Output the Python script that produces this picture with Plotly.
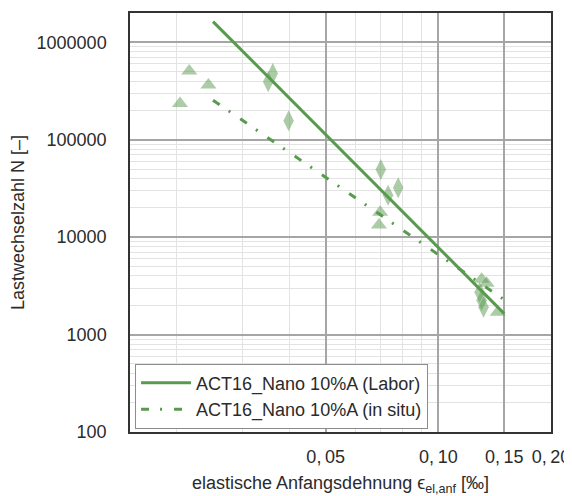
import plotly.graph_objects as go

# ---- data ----
labor_x = [0.0361, 0.0351, 0.0398, 0.0702, 0.0781, 0.0734, 0.1289, 0.1305, 0.1321]
labor_n = [480000, 394000, 157000, 49600, 32200, 27000, 2720, 2250, 1910]

insitu_x = [0.0216, 0.0243, 0.0204, 0.0699, 0.0694, 0.1305, 0.1346, 0.1441]
insitu_n = [509000, 364000, 236000, 18000, 13300, 3700, 3370, 1700]

fit_x = [0.025, 0.15]
labor_fit_n = [1630000, 1640]
insitu_fit_n = [255000, 2280]

x_tickvals = [0.05, 0.10, 0.15, 0.20]
x_ticktext = ["0,\u200905", "0,\u200910", "0,\u200915", "0,\u200920"]
x_minor = [0.02, 0.03, 0.04, 0.06, 0.07, 0.08, 0.09]
y_tickvals = [100, 1000, 10000, 100000, 1000000]
y_ticktext = ["100", "1000", "10000", "100000", "1000000"]
y_minor = [m * 10 ** e for e in range(2, 7) for m in range(2, 10)]

label_labor = "ACT16_Nano 10%A (Labor)"
label_insitu = "ACT16_Nano 10%A (in situ)"

GREEN = "rgb(88,154,78)"
FONT = "Liberation Sans, Arial, sans-serif"
TXT = "#2b2b2b"

fig = go.Figure()

fig.add_trace(go.Scatter(
    x=insitu_x, y=insitu_n, mode="markers", showlegend=False,
    marker=dict(symbol="triangle-up", size=14, color=GREEN, opacity=0.5,
                line=dict(width=0)),
))
fig.add_trace(go.Scatter(
    x=labor_x, y=labor_n, mode="markers", showlegend=False,
    marker=dict(symbol="diamond-tall", size=15, color=GREEN, opacity=0.5,
                line=dict(width=0)),
))
fig.add_trace(go.Scatter(
    x=fit_x, y=labor_fit_n, mode="lines", name=label_labor,
    line=dict(color=GREEN, width=3),
))
fig.add_trace(go.Scatter(
    x=fit_x, y=insitu_fit_n, mode="lines", name=label_insitu,
    line=dict(color=GREEN, width=3, dash="8px,11px,2px,12px"),
))

# the page body adds an 8px offset, so the figure is 8px smaller each way
fig.update_layout(
    width=564, height=488,
    margin=dict(l=122, r=21, t=5, b=64),
    paper_bgcolor="white", plot_bgcolor="white",
    font=dict(family=FONT, size=18, color=TXT),
    legend=dict(
        x=0.012, y=0.008, xanchor="left", yanchor="bottom",
        bgcolor="white", bordercolor="#8c8c8c", borderwidth=1,
        font=dict(size=18, color=TXT), tracegroupgap=0,
        itemwidth=50,
    ),
)

fig.update_xaxes(
    type="log", range=[-1.8239, -0.69897], automargin=False,
    tickmode="array", tickvals=x_tickvals, ticktext=x_ticktext,
    showgrid=True, gridcolor="#a6a6a6", gridwidth=1.5,
    minor=dict(tickmode="array", tickvals=x_minor, showgrid=True,
               gridcolor="#e3e3e3", gridwidth=1),
    showline=True, linecolor="#333333", linewidth=1.5, mirror=True,
    ticks="", ticklabelstandoff=8, zeroline=False,
    title=dict(text="elastische Anfangsdehnung ϵ<sub>el,anf</sub> [‰]",
               font=dict(size=18, color=TXT), standoff=15),
)
fig.update_yaxes(
    type="log", range=[2, 6.301], automargin=False,
    tickmode="array", tickvals=y_tickvals, ticktext=y_ticktext,
    showgrid=True, gridcolor="#a6a6a6", gridwidth=1.5,
    minor=dict(tickmode="array", tickvals=y_minor, showgrid=True,
               gridcolor="#e3e3e3", gridwidth=1),
    showline=True, linecolor="#333333", linewidth=1.5, mirror=True,
    ticks="", ticklabelstandoff=18, zeroline=False,
    title=dict(text="Lastwechselzahl N [–]",
               font=dict(size=18, color=TXT), standoff=8),
)

fig.write_html("out.html")
